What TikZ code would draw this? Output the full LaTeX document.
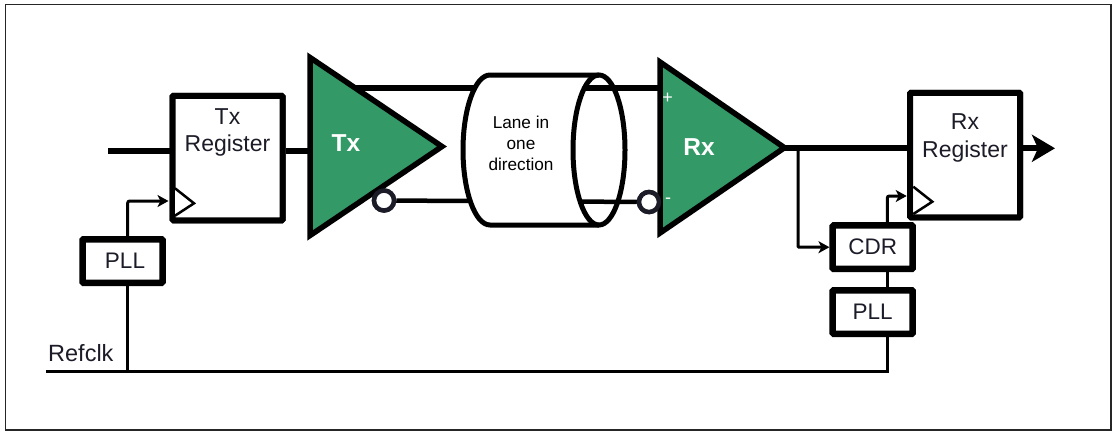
\documentclass[tikz,border=0pt]{standalone}
\usepackage{fontspec}
\setmainfont{Liberation Sans}
\usetikzlibrary{positioning}
\usetikzlibrary{arrows.meta}
\usetikzlibrary{shapes.geometric}
\definecolor{ampgreen}{HTML}{339966}
\definecolor{inkdark}{HTML}{1C1C28}
\tikzset{
	regbox/.style={draw=black, line width=6pt, fill=white, minimum width=110pt, minimum height=124.5pt, inner sep=0pt, rounded corners=1pt},
	ctlbox/.style={draw=black, line width=6.5pt, fill=white, minimum width=80pt, minimum height=43.5pt, inner sep=0pt, rounded corners=1pt, text=inkdark, font=\fontsize{22.5}{26}\selectfont},
	regtext/.style={align=center, text=inkdark, inner sep=0pt, font=\fontsize{23}{27.7}\selectfont},
	amp/.style={draw=black, fill=ampgreen, line width=5.5pt, miter limit=10},
	amptext/.style={text=white, inner sep=0pt, font=\fontsize{24.5}{28}\selectfont\bfseries},
	signtext/.style={text=white, inner sep=0pt, font=\fontsize{18}{20}\selectfont},
	bubble/.style={circle, draw=inkdark, line width=4.5pt, fill=white, minimum size=20pt, inner sep=0pt},
	thick wire/.style={line width=5.5pt},
	mid wire/.style={line width=4.5pt},
	thin wire/.style={line width=3pt},
	clk wire/.style={line width=3pt, rounded corners=2pt, -{Stealth[length=11pt, width=12pt, inset=3pt]}},
	clk mark/.style={line width=2.5pt, fill=white, miter limit=10}
}
\begin{document}
\begin{tikzpicture}[x=1pt, y=-1pt]
	\useasboundingbox (0,0) rectangle (1116,437);
	\node[draw=black!85, line width=1.3pt, minimum width=1105.5pt, minimum height=425.5pt, inner sep=0pt] (frame) at (558.2,217.2) {};
	% wires behind the shapes
	\coordinate (in) at (108,151);
	\coordinate (out) at (1055,148.3);
	\coordinate (refin) at (46,371.5);
	\coordinate (txtop) at (310,57.5);
	\coordinate (txbot) at (310,235.5);
	\coordinate (txtip) at (442,146.5);
	\coordinate (rxtop) at (660,62);
	\coordinate (rxbot) at (660,233);
	\coordinate (rxtip) at (784.5,147.7);
	\node[regbox] (txreg) at (227.5,158) {};
	\node[regbox] (rxreg) at (965,155) {};
	\node[ctlbox] (txpll) at (122.5,261) {\hspace*{5pt}PLL};
	\node[ctlbox] (cdr) at (872.7,247.2) {CDR};
	\node[ctlbox] (rxpll) at (872.7,312) {PLL};
	\node[bubble] (txbub) at (384,200.5) {};
	\node[bubble] (rxbub) at (649,202) {};
	\draw[thick wire] (in -| txreg.west) -- (in);
	\draw[thick wire] (txreg.east |- in) -- (txtop |- in);
	\draw[line width=6pt] (340,88.2) -- (660,88.2);
	\draw[mid wire] (txbub) -- (rxbub);
	% lane, open at the front so that the wires show through
	\fill[white] (490,75) arc[start angle=270, end angle=90, x radius=27, y radius=75] -- (599,225) arc[start angle=90, end angle=270, x radius=26, y radius=75] -- cycle;
	\draw[line width=5pt] (599,75) -- (490,75) arc[start angle=270, end angle=90, x radius=27, y radius=75] -- (599,225);
	\node[ellipse, draw=black, line width=5pt, minimum width=52pt, minimum height=150pt, inner sep=0pt] (lane) at (599,150) {};
	\node[align=center, text=black, inner sep=0pt, font=\fontsize{17.2}{21}\selectfont] (lanetext) at (521,143.5) {Lane in\\one\\direction};
	% amplifiers
	\draw[amp] (txtop) -- (txtip) -- (txbot) -- cycle;
	\draw[amp] (rxtop) -- (rxtip) -- (rxbot) -- cycle;
	\node[bubble] at (txbub) {};
	\node[bubble] at (rxbub) {};
	\node[amptext] (txlabel) at (346,143) {Tx};
	\node[amptext] (rxlabel) at (699,146.7) {Rx};
	\node[signtext] (plus) at (667.7,98) {+};
	\node[signtext] (minus) at (668,200.7) {-};
	% registers
	\node[regbox] at (txreg) {};
	\node[regbox] at (rxreg) {};
	\node[regtext, below=15.5pt of txreg.north] (txregtext) {Tx\\Register};
	\node[regtext, below=24pt of rxreg.north] (rxregtext) {Rx\\Register};
	\draw[clk mark] (175,188.3) -- (194,203.3) -- (175,215.7);
	\draw[clk mark] (913.3,186.7) -- (932.3,201.7) -- (913.3,214);
	% clocks
	\coordinate (txclk) at (168.5,201);
	\coordinate (rxclk) at (906.7,196);
	\draw[clk wire] (txpll.north -| 127.7,0) |- (txclk);
	\draw[clk wire] (cdr.north -| 887.3,0) |- (rxclk);
	\draw[thin wire] (rxpll.north -| 887.3,0) -- (cdr.south -| 887.3,0);
	\draw[thin wire] (txpll.south -| 127.7,0) -- (127.7,371.5);
	\draw[thin wire] (refin) -- (887.3,371.5) -- (rxpll.south -| 887.3,0);
	\draw[line width=3pt, -{Stealth[length=11pt, width=12pt, inset=3pt]}, rounded corners=1pt] (798,148) |- (cdr.west);
	\draw[line width=6pt] (rxtip) -- (rxreg.west |- rxtip);
	\draw[line width=6pt, -{Stealth[length=23pt, width=27pt, inset=6pt]}] (rxreg.east |- out) -- (out);
	\node[inner sep=0pt, anchor=base west, text=inkdark, font=\fontsize{23.5}{27}\selectfont] (refclk) at (48,361.7) {Refclk};
\end{tikzpicture}
\end{document}
